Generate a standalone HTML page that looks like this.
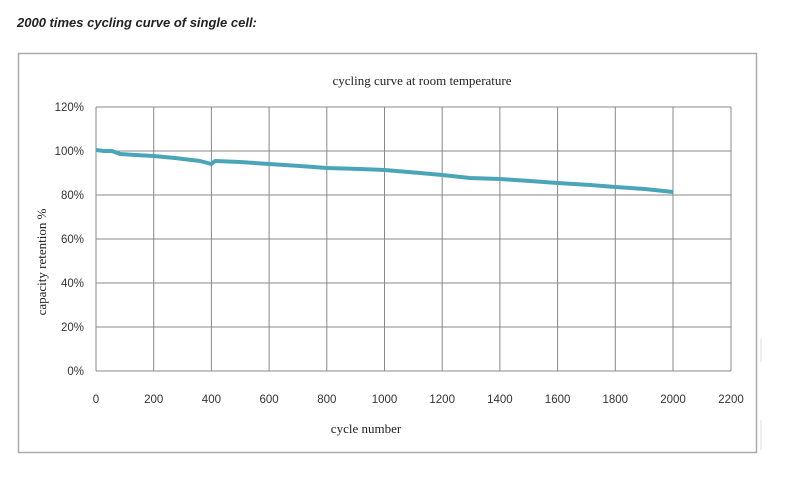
<!DOCTYPE html>
<html><head><style>body{margin:0;background:#fff;width:798px;height:487px;overflow:hidden}</style></head>
<body>
<svg width="798" height="487" xmlns="http://www.w3.org/2000/svg">
<text x="17" y="27" font-family="Liberation Sans, sans-serif" font-size="13" font-style="italic" font-weight="bold" fill="#222">2000 times cycling curve of single cell:</text>
<rect x="18.5" y="53.5" width="738" height="399" fill="#fff" stroke="#aaa" stroke-width="1.5"/>
<line x1="761" y1="338" x2="761" y2="362" stroke="#ddd"/>
<line x1="761" y1="420" x2="761" y2="450" stroke="#ddd"/>
<text x="422" y="85" text-anchor="middle" font-family="Liberation Serif, serif" font-size="13" fill="#222">cycling curve at room temperature</text>
<g stroke="#888" stroke-width="1">
<line x1="96" y1="107" x2="731" y2="107"/><line x1="96" y1="151" x2="731" y2="151"/><line x1="96" y1="195" x2="731" y2="195"/><line x1="96" y1="239" x2="731" y2="239"/><line x1="96" y1="283" x2="731" y2="283"/><line x1="96" y1="327" x2="731" y2="327"/><line x1="96" y1="371" x2="731" y2="371"/>
<line x1="96" y1="107" x2="96" y2="371"/><line x1="153.7" y1="107" x2="153.7" y2="371"/><line x1="211.4" y1="107" x2="211.4" y2="371"/><line x1="269.1" y1="107" x2="269.1" y2="371"/><line x1="326.8" y1="107" x2="326.8" y2="371"/><line x1="384.5" y1="107" x2="384.5" y2="371"/><line x1="442.2" y1="107" x2="442.2" y2="371"/><line x1="499.9" y1="107" x2="499.9" y2="371"/><line x1="557.6" y1="107" x2="557.6" y2="371"/><line x1="615.3" y1="107" x2="615.3" y2="371"/><line x1="673" y1="107" x2="673" y2="371"/><line x1="731" y1="107" x2="731" y2="371"/>
</g>
<g font-family="Liberation Sans, sans-serif" font-size="11.5" fill="#333" text-anchor="end">
<text x="84" y="111">120%</text><text x="84" y="155">100%</text><text x="84" y="199">80%</text><text x="84" y="243">60%</text><text x="84" y="287">40%</text><text x="84" y="331">20%</text><text x="84" y="375">0%</text>
</g>
<g font-family="Liberation Sans, sans-serif" font-size="11.5" fill="#333" text-anchor="middle">
<text x="96" y="403">0</text><text x="153.7" y="403">200</text><text x="211.4" y="403">400</text><text x="269.1" y="403">600</text><text x="326.8" y="403">800</text><text x="384.5" y="403">1000</text><text x="442.2" y="403">1200</text><text x="499.9" y="403">1400</text><text x="557.6" y="403">1600</text><text x="615.3" y="403">1800</text><text x="673" y="403">2000</text><text x="731" y="403">2200</text>
</g>
<text x="366" y="433" text-anchor="middle" font-family="Liberation Serif, serif" font-size="13" fill="#222">cycle number</text>
<text transform="translate(46,262) rotate(-90)" text-anchor="middle" font-family="Liberation Serif, serif" font-size="13" fill="#222">capacity retention %</text>
<polyline fill="none" stroke="#4ba5b8" stroke-width="4" stroke-linejoin="round" points="96,150 104,151 112,151 120,154 135,155 153.7,156 175,158 200,161 211.4,164 215,161 240,162 269.1,164 300,166 326.8,168 360,169 384.5,170 420,173 442.2,175 470,178 499.9,179 530,181 557.6,183 590,185 615.3,187 645,189 673,192"/>
</svg>
</body></html>
